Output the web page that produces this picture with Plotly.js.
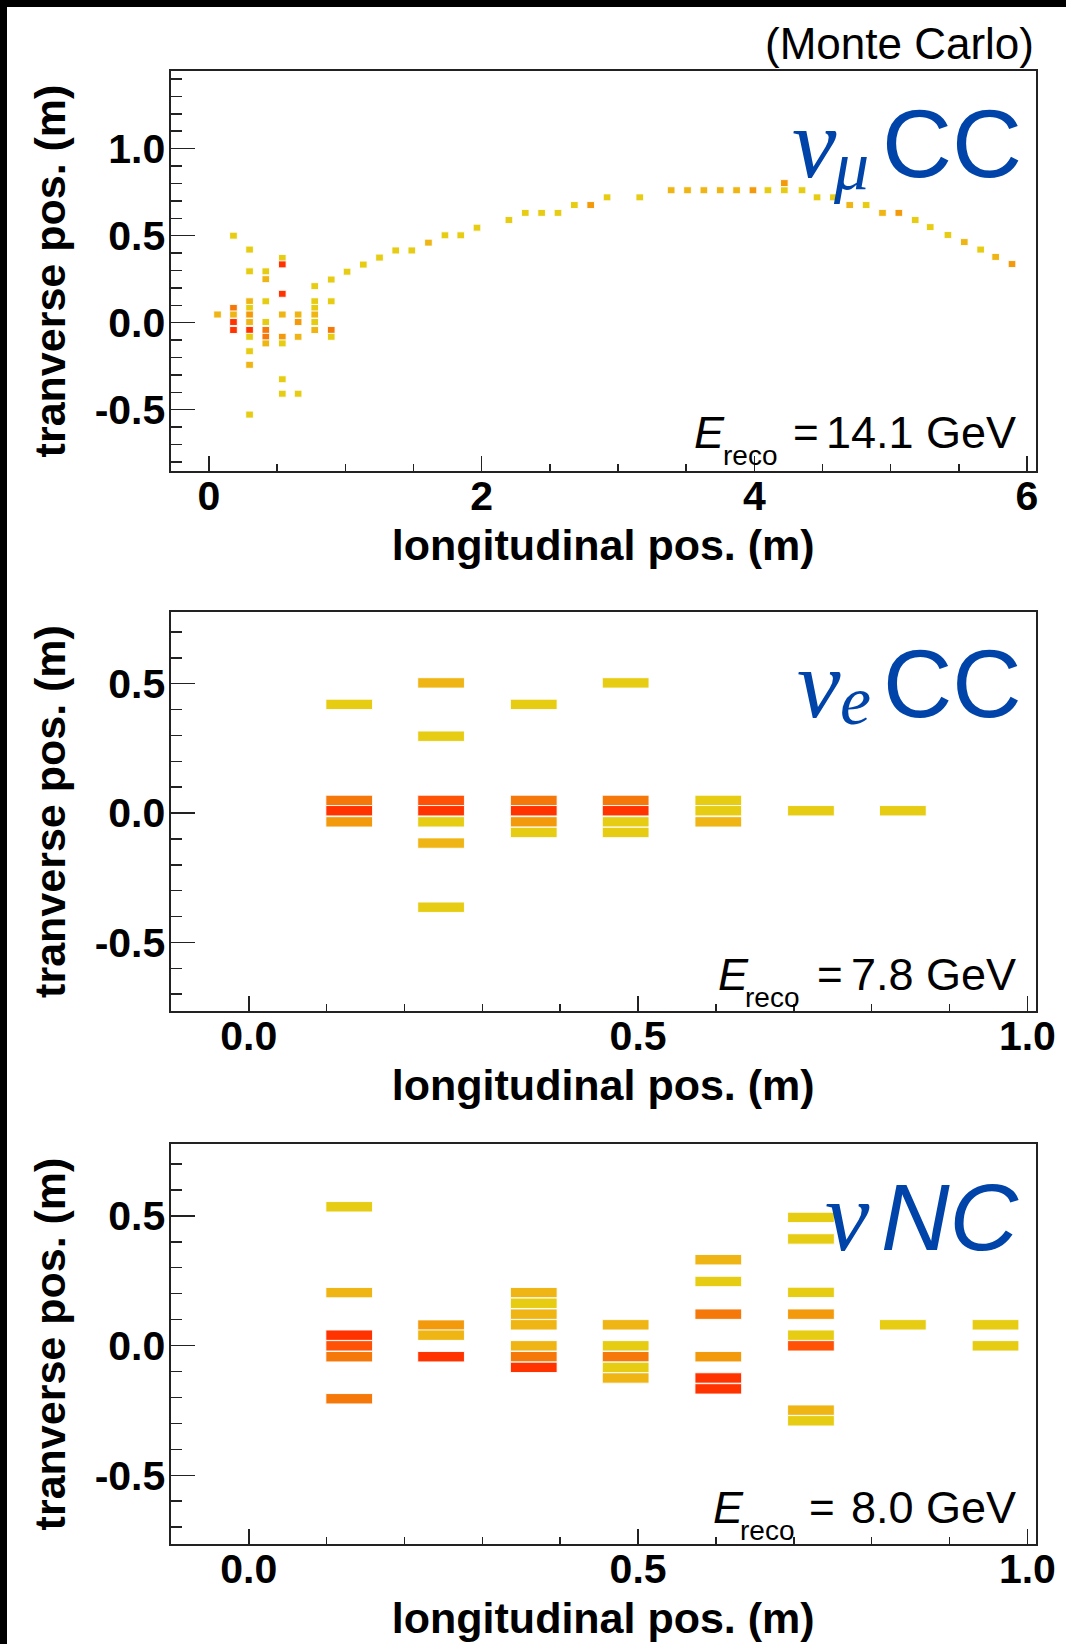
<!DOCTYPE html>
<html>
<head>
<meta charset="utf-8">
<script src="https://cdn.plot.ly/plotly-3.0.1.min.js"></script>
<style>
  html, body { margin: 0; padding: 0; background: #fff; }
  #wrap { position: relative; width: 1066px; height: 1644px; overflow: hidden; background: #fff; }
  #chart { position: absolute; left: 0; top: 0; width: 1066px; height: 1644px; }
  .edge { position: absolute; background: #000; }
</style>
</head>
<body>
<div id="wrap">
  <div id="chart"></div>
  <div class="edge" style="left:0;top:0;width:1066px;height:7px"></div>
  <div class="edge" style="left:0;top:0;width:7px;height:1644px"></div>
</div>
<script>
// ---- hit data: centre positions (m) and charge level (0 = low ... 5 = high) ----

// nu_mu CC event
const numuX = [0.063,
  0.18, 0.18, 0.18, 0.18, 0.18,
  0.298, 0.298, 0.298, 0.298, 0.298, 0.298, 0.298, 0.298, 0.298, 0.298, 0.298,
  0.417, 0.417, 0.417, 0.417, 0.417, 0.417, 0.417,
  0.538, 0.538, 0.538, 0.538, 0.538, 0.538, 0.538, 0.538,
  0.654, 0.654, 0.654, 0.654,
  0.776, 0.776, 0.776, 0.776, 0.776, 0.776,
  0.897, 0.897, 0.897, 0.897,
  1.013, 1.132, 1.251, 1.37, 1.488, 1.61, 1.731, 1.847, 1.966,
  2.2, 2.32, 2.44, 2.56, 2.68, 2.80, 2.92,
  3.16,
  3.39, 3.51, 3.63, 3.75, 3.87, 3.99, 4.10,
  4.22, 4.22,
  4.35, 4.46, 4.58, 4.70, 4.82, 4.94, 5.06, 5.18, 5.29, 5.42, 5.54, 5.66, 5.77, 5.89];
const numuY = [0.047,
  0.50, 0.085, 0.047, 0.004, -0.042,
  0.42, 0.295, 0.123, 0.085, 0.047, 0.004, -0.042, -0.081, -0.164, -0.242, -0.528,
  0.295, 0.25, 0.123, 0.004, -0.042, -0.081, -0.119,
  0.372, 0.335, 0.166, 0.047, -0.081, -0.119, -0.325, -0.408,
  0.047, 0.004, -0.081, -0.408,
  0.21, 0.123, 0.085, 0.047, 0.004, -0.042,
  0.248, 0.123, -0.042, -0.081,
  0.293, 0.334, 0.374, 0.415, 0.415, 0.46, 0.502, 0.502, 0.546,
  0.59, 0.631, 0.631, 0.631, 0.676, 0.676, 0.72,
  0.72,
  0.761, 0.761, 0.761, 0.761, 0.761, 0.761, 0.761,
  0.761, 0.802,
  0.761, 0.72, 0.72, 0.676, 0.676, 0.631, 0.631, 0.59, 0.549, 0.504, 0.463, 0.42, 0.378, 0.337];
const numuQ = [1,
  0, 3, 1, 5, 5,
  0, 0, 1, 0, 2, 1, 5, 0, 0, 1, 0,
  0, 1, 0, 0, 3, 3, 1,
  0, 5, 5, 1, 2, 0, 0, 0,
  1, 2, 1, 0,
  0, 0, 0, 1, 0, 1,
  0, 0, 3, 0,
  0, 0, 0, 0, 0, 1, 0, 0, 0,
  0, 0, 0, 0, 0, 2, 0,
  0,
  1, 1, 1, 1, 1, 2, 0,
  0, 2,
  0, 0, 0, 1, 0, 1, 2, 0, 0, 0, 1, 0, 1, 2];

// nu_e CC event
const nueX = [0.129, 0.129, 0.129, 0.129,
  0.247, 0.247, 0.247, 0.247, 0.247, 0.247, 0.247,
  0.366, 0.366, 0.366, 0.366, 0.366,
  0.484, 0.484, 0.484, 0.484, 0.484,
  0.603, 0.603, 0.603,
  0.722,
  0.84];
const nueY = [0.42, 0.049, 0.009, -0.034,
  0.503, 0.297, 0.049, 0.009, -0.034, -0.116, -0.364,
  0.42, 0.049, 0.009, -0.034, -0.075,
  0.503, 0.049, 0.009, -0.034, -0.075,
  0.049, 0.009, -0.034,
  0.009,
  0.009];
const nueQ = [0, 3, 5, 2,
  1, 0, 4, 5, 0, 1, 0,
  0, 3, 5, 2, 0,
  0, 3, 5, 0, 0,
  0, 0, 1,
  0,
  0];

// nu NC event
const ncX = [0.129, 0.129, 0.129, 0.129, 0.129, 0.129,
  0.247, 0.247, 0.247,
  0.366, 0.366, 0.366, 0.366, 0.366, 0.366, 0.366,
  0.484, 0.484, 0.484, 0.484, 0.484,
  0.603, 0.603, 0.603, 0.603, 0.603, 0.603,
  0.722, 0.722, 0.722, 0.722, 0.722, 0.722, 0.722, 0.722,
  0.84,
  0.959, 0.959];
const ncY = [0.535, 0.204, 0.04, -0.001, -0.043, -0.205,
  0.079, 0.04, -0.043,
  0.204, 0.163, 0.121, 0.08, -0.001, -0.043, -0.084,
  0.08, -0.001, -0.043, -0.084, -0.125,
  0.331, 0.247, 0.121, -0.043, -0.125, -0.167,
  0.494, 0.411, 0.205, 0.121, 0.04, -0.001, -0.249, -0.29,
  0.08,
  0.08, -0.001];
const ncQ = [0, 1, 5, 4, 3, 3,
  2, 1, 5,
  1, 0, 1, 1, 1, 3, 5,
  1, 0, 3, 0, 1,
  1, 0, 3, 2, 5, 5,
  0, 0, 0, 2, 0, 4, 1, 0,
  0,
  0, 0];

// reconstructed energies (GeV)
const energies = ['14.1', '7.8', '8.0'];

// tick labels
const xTickVals1 = [0, 2, 4, 6];
const xTickText1 = ['0', '2', '4', '6'];
const xTickVals23 = [0, 0.5, 1];
const xTickText23 = ['0.0', '0.5', '1.0'];
const yTickVals1 = [-0.5, 0, 0.5, 1];
const yTickText1 = ['-0.5', '0.0', '0.5', '1.0'];
const yTickVals23 = [-0.5, 0, 0.5];
const yTickText23 = ['-0.5', '0.0', '0.5'];

// ---- styling ----
const W = 1066, H = 1644;
const palette = ['#E6CC12', '#EEB514', '#F29A0C', '#F5780A', '#FF5206', '#FF3300'];
const BLUE = '#0044AA';
const SANS = 'Liberation Sans, Arial, Helvetica, sans-serif';
const SERIF = 'Liberation Serif, Times New Roman, serif';
const CELL_H = 0.04;

function hits(xs, ys, qs, w, xa, ya) {
  return {
    type: 'bar',
    x: xs,
    y: xs.map(() => CELL_H),
    base: ys.map(v => v - CELL_H / 2),
    width: w,
    marker: { color: qs.map(q => palette[q]), line: { color: 'rgba(255,255,255,0.9)', width: 1 } },
    xaxis: xa, yaxis: ya,
    hoverinfo: 'skip'
  };
}

const traces = [
  hits(numuX, numuY, numuQ, 0.056, 'x', 'y'),
  hits(nueX, nueY, nueQ, 0.06, 'x2', 'y2'),
  hits(ncX, ncY, ncQ, 0.06, 'x3', 'y3')
];

// panel frames in page pixels: [left, right, top, bottom]
const frames = [[170.5, 1036, 71, 471], [170.5, 1036, 612, 1011], [170.5, 1036, 1144, 1544]];
const xdom = f => [f[0] / W, f[1] / W];
const ydom = f => [1 - f[3] / H, 1 - f[2] / H];

const tickFont = { family: SANS, size: 41, color: '#000', weight: 'bold' };
const titleFont = { family: SANS, size: 43, color: '#000', weight: 'bold' };

function xAxis(f, range, vals, text, minorDt, anchor) {
  return {
    domain: xdom(f), range, anchor,
    showline: true, mirror: true, linecolor: '#222', linewidth: 2,
    showgrid: false, zeroline: false,
    ticks: 'inside', ticklen: 15, tickwidth: 1.5, tickcolor: '#222',
    tickmode: 'array', tickvals: vals, ticktext: text,
    tickfont: tickFont, ticklabelstandoff: -12,
    minor: { ticks: 'inside', ticklen: 7, tickwidth: 1.5, tickcolor: '#222', dtick: minorDt, tick0: 0, showgrid: false },
    title: { text: 'longitudinal pos. (m)', font: titleFont, standoff: 12 },
    fixedrange: true
  };
}
function yAxis(f, range, vals, text, anchor) {
  return {
    domain: ydom(f), range, anchor,
    showline: true, mirror: true, linecolor: '#222', linewidth: 2,
    showgrid: false, zeroline: false,
    ticks: 'inside', ticklen: 24, tickwidth: 1.5, tickcolor: '#222',
    tickmode: 'array', tickvals: vals, ticktext: text,
    tickfont: tickFont, ticklabelstandoff: -5,
    minor: { ticks: 'inside', ticklen: 11, tickwidth: 1.5, tickcolor: '#222', dtick: 0.1, tick0: 0, showgrid: false },
    title: { text: 'tranverse pos. (m)', font: titleFont, standoff: 16 },
    fixedrange: true
  };
}

// text placed by baseline (page px)
function txt(text, x, baseline, size, o) {
  const k = o.serif ? 0.3375 : 0.3465;
  return {
    xref: 'paper', yref: 'paper', showarrow: false,
    x: x / W, y: 1 - (baseline - k * size) / H,
    xanchor: o.anchor || 'left', yanchor: 'middle',
    text: text, borderpad: 0,
    font: { family: o.serif ? SERIF : SANS, size: size, color: o.color || '#000', style: o.italic ? 'italic' : 'normal' }
  };
}

const annotations = [
  txt('(Monte Carlo)', 1035, 59, 44, { anchor: 'right' }),

  txt('ν', 791, 177, 100, { serif: true, italic: true, color: BLUE }),
  txt('μ', 832, 189, 70, { serif: true, italic: true, color: BLUE }),
  txt('CC', 1023, 177, 97, { anchor: 'right', color: BLUE }),

  txt('ν', 796, 717, 98, { serif: true, italic: true, color: BLUE }),
  txt('e', 839, 724, 70, { serif: true, italic: true, color: BLUE }),
  txt('CC', 1023, 717, 96, { anchor: 'right', color: BLUE }),

  txt('ν', 824, 1250, 100, { serif: true, italic: true, color: BLUE }),
  txt('NC', 1021, 1250, 95, { anchor: 'right', italic: true, color: BLUE })
];

// E_reco labels: [E left, E baseline, '=' left, reco left]
const eLabelPos = [[693, 448, 792, 722], [717, 990, 816, 744], [712, 1523, 808, 739]];
eLabelPos.forEach((p, i) => {
  annotations.push(txt('E', p[0], p[1], 45, { italic: true }));
  annotations.push(txt('reco', p[3], p[1] + 17, 28, {}));
  annotations.push(txt('=', p[2], p[1], 44, {}));
  annotations.push(txt(energies[i] + ' GeV', 1017, p[1], 45, { anchor: 'right' }));
});

const layout = {
  width: W, height: H,
  margin: { l: 0, r: 0, t: 0, b: 0 },
  paper_bgcolor: '#fff', plot_bgcolor: '#fff',
  showlegend: false, barmode: 'overlay',
  font: { family: SANS, color: '#000' },
  xaxis: xAxis(frames[0], [-0.282, 6.066], xTickVals1, xTickText1, 0.5, 'y'),
  yaxis: yAxis(frames[0], [-0.852, 1.446], yTickVals1, yTickText1, 'x'),
  xaxis2: xAxis(frames[1], [-0.1005, 1.011], xTickVals23, xTickText23, 0.1, 'y2'),
  yaxis2: yAxis(frames[1], [-0.765, 0.777], yTickVals23, yTickText23, 'x2'),
  xaxis3: xAxis(frames[2], [-0.1005, 1.011], xTickVals23, xTickText23, 0.1, 'y3'),
  yaxis3: yAxis(frames[2], [-0.765, 0.777], yTickVals23, yTickText23, 'x3'),
  annotations: annotations
};

Plotly.newPlot('chart', traces, layout, { staticPlot: true, displayModeBar: false });
</script>
</body>
</html>
